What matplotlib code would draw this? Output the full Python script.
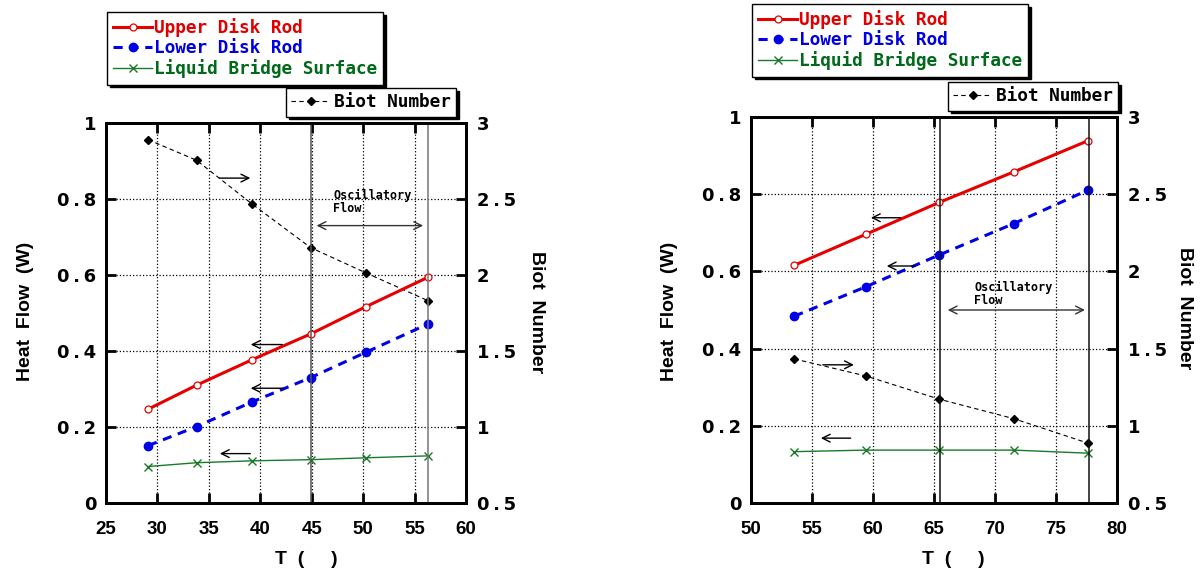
import numpy as np
import matplotlib
matplotlib.use("Agg")
import matplotlib.pyplot as plt

#%% Data
T_left        = [29.1, 33.8, 39.2, 44.9, 50.3, 56.3]
upper_left    = [0.247, 0.310, 0.377, 0.445, 0.517, 0.594]
lower_left    = [0.151, 0.201, 0.266, 0.330, 0.397, 0.471]
surface_left  = [0.096, 0.106, 0.111, 0.114, 0.119, 0.124]
biot_left     = [2.89, 2.755, 2.467, 2.18, 2.013, 1.831]
onset_left    = [44.9, 56.3]

T_right       = [53.55, 59.4, 65.45, 71.55, 77.65]
upper_right   = [0.616, 0.696, 0.779, 0.858, 0.939]
lower_right   = [0.484, 0.560, 0.643, 0.724, 0.811]
surface_right = [0.133, 0.137, 0.137, 0.137, 0.129]
biot_right    = [1.433, 1.323, 1.172, 1.046, 0.887]
onset_right   = [65.5, 77.7]

# arrows: (x_tail, x_head, y)
arrows_left   = [(35.75, 39.3, 0.855), (42.4, 38.8, 0.417), (42.5, 38.8, 0.302), (39.3, 35.8, 0.130)]
osc_left      = (45.2, 56.1, 0.730, 47.1, 0.826)
arrows_right  = [(62.5, 59.6, 0.739), (63.7, 60.9, 0.614), (55.66, 58.66, 0.358), (58.4, 55.5, 0.168)]
osc_right     = (65.9, 77.6, 0.500, 68.3, 0.575)

labels        = ['Upper Disk Rod', 'Lower Disk Rod', 'Liquid Bridge Surface']
label_colors  = ['#e00000', '#0000e0', '#006a1a']
heat_ticks    = ['0', '0.2', '0.4', '0.6', '0.8', '1']
biot_ticks    = ['0.5', '1', '1.5', '2', '2.5', '3']

ts = '\u2009'
xtickfont = {'family': 'Liberation Sans', 'weight': 'bold', 'size': 13.5}
ytickfont = {'family': 'DejaVu Sans', 'weight': 'bold', 'size': 13}
monofont = 'DejaVu Sans Mono'

fig = plt.figure(figsize=(12.04, 5.74), dpi=100)


def spaced(s):
    return s.replace('.', ts + '.' + ts)


def panel(rect, T, up, low, surf, biot, onset, xlim, xticks, arrows, osc,
          leg1, leg2, onset_colors):
    ax = fig.add_axes(rect)
    ax2 = ax.twinx()
    ax.set_zorder(ax2.get_zorder() + 1)
    ax.patch.set_visible(False)

    l1, = ax.plot(T, up, '-', color='#e60000', lw=2.2, marker='o', ms=5,
                  mfc='white', mec='#e60000', mew=0.9)
    l2, = ax.plot(T, low, '--', color='#0000e6', lw=2.2, marker='o', ms=6,
                  dashes=(3, 2.2))
    l3, = ax.plot(T, surf, '-', color='#1a7a2a', lw=1.0, marker='x', ms=6,
                  mew=1.0)
    lb, = ax2.plot(T, biot, '--', color='k', lw=0.8, marker='D', ms=4,
                   dashes=(4, 3))

    for xv, c in zip(onset, onset_colors):
        ax.axvline(xv, color=c, lw=1.1)

    ax.set_xlim(*xlim)
    ax.set_ylim(0, 1)
    ax2.set_ylim(0.5, 3)
    ax.set_xticks(xticks)
    ax.set_yticks(np.arange(0, 1.01, 0.2))
    ax.set_yticklabels([spaced(s) for s in heat_ticks])
    ax2.set_yticks(np.arange(0.5, 3.01, 0.5))
    ax2.set_yticklabels([spaced(s) for s in biot_ticks])
    for a in (ax, ax2):
        for s in a.spines.values():
            s.set_linewidth(2)
        for lab in a.get_yticklabels():
            lab.set_fontproperties(ytickfont)
    for lab in ax.get_xticklabels():
        lab.set_fontproperties(xtickfont)
    ax.tick_params(axis='both', direction='in', length=7, width=2, top=True)
    ax.tick_params(axis='x', pad=13)
    ax.tick_params(axis='y', right=False, pad=7)
    ax2.tick_params(axis='y', direction='in', length=7, width=2, pad=8)
    ax.grid(True, color='k', ls=':', lw=0.9)

    for x0, x1, y in arrows:
        ax.annotate('', xy=(x1, y), xytext=(x0, y),
                    arrowprops=dict(arrowstyle='->', color='k', lw=1.0,
                                    mutation_scale=14))
    ax.annotate('', xy=(osc[1], osc[2]), xytext=(osc[0], osc[2]),
                arrowprops=dict(arrowstyle='<->', color='#333333', lw=1.0,
                                mutation_scale=14))
    ax.text(osc[3], osc[4], 'Oscillatory\nFlow', family=monofont,
            weight='bold', fontsize=8.5, va='top', ha='left', linespacing=1.0)

    lg1 = fig.legend([l1, l2, l3], labels, loc='upper left',
                     bbox_to_anchor=leg1, borderaxespad=0,
                     prop={'family': monofont, 'size': 12.8, 'weight': 'bold'},
                     handlelength=2.2, handletextpad=0.1, labelspacing=0.12,
                     borderpad=0.35, fancybox=False, edgecolor='k',
                     framealpha=1, shadow={'color': 'k', 'alpha': 1})
    lg1.get_frame().set_linewidth(1.0)
    for t, c in zip(lg1.get_texts(), label_colors):
        t.set_color(c)
    lg2 = fig.legend([lb], ['Biot Number'], loc='upper right',
                     bbox_to_anchor=leg2, borderaxespad=0,
                     prop={'family': monofont, 'size': 12.8, 'weight': 'bold'},
                     handlelength=2.2, handletextpad=0.2, borderpad=0.3,
                     fancybox=False, edgecolor='k', framealpha=1,
                     shadow={'color': 'k', 'alpha': 1})
    lg2.get_frame().set_linewidth(1.0)
    return ax, ax2


W, H = 1204.0, 574.0

panel([106 / W, 71 / H, 360 / W, 380 / H], T_left, upper_left, lower_left,
      surface_left, biot_left, onset_left, (25, 60), np.arange(25, 61, 5),
      arrows_left, osc_left, (107 / W, 1 - 12 / H), (456 / W, 1 - 88 / H),
      ['#555555', '#777777'])

panel([751 / W, 71 / H, 366 / W, 386 / H], T_right, upper_right, lower_right,
      surface_right, biot_right, onset_right, (50, 80), np.arange(50, 81, 5),
      arrows_right, osc_right, (752 / W, 1 - 4 / H), (1118 / W, 1 - 82 / H),
      ['#111111', '#111111'])

labfont = dict(family='Liberation Sans', weight='bold', size=14)
fig.text(306 / W, 1 - 559 / H, 'T  (     )', ha='center', va='center', **labfont)
fig.text(953 / W, 1 - 559 / H, 'T  (     )', ha='center', va='center', **labfont)
fig.text(25 / W, 1 - 311 / H, 'Heat  Flow  (W)', rotation=90, ha='center',
         va='center', **labfont)
fig.text(670 / W, 1 - 311 / H, 'Heat  Flow  (W)', rotation=90, ha='center',
         va='center', **labfont)
fig.text(536 / W, 1 - 312 / H, 'Biot  Number', rotation=-90, ha='center',
         va='center', **labfont)
fig.text(1185 / W, 1 - 308 / H, 'Biot  Number', rotation=-90, ha='center',
         va='center', **labfont)

fig.savefig('out.png', dpi=100)
